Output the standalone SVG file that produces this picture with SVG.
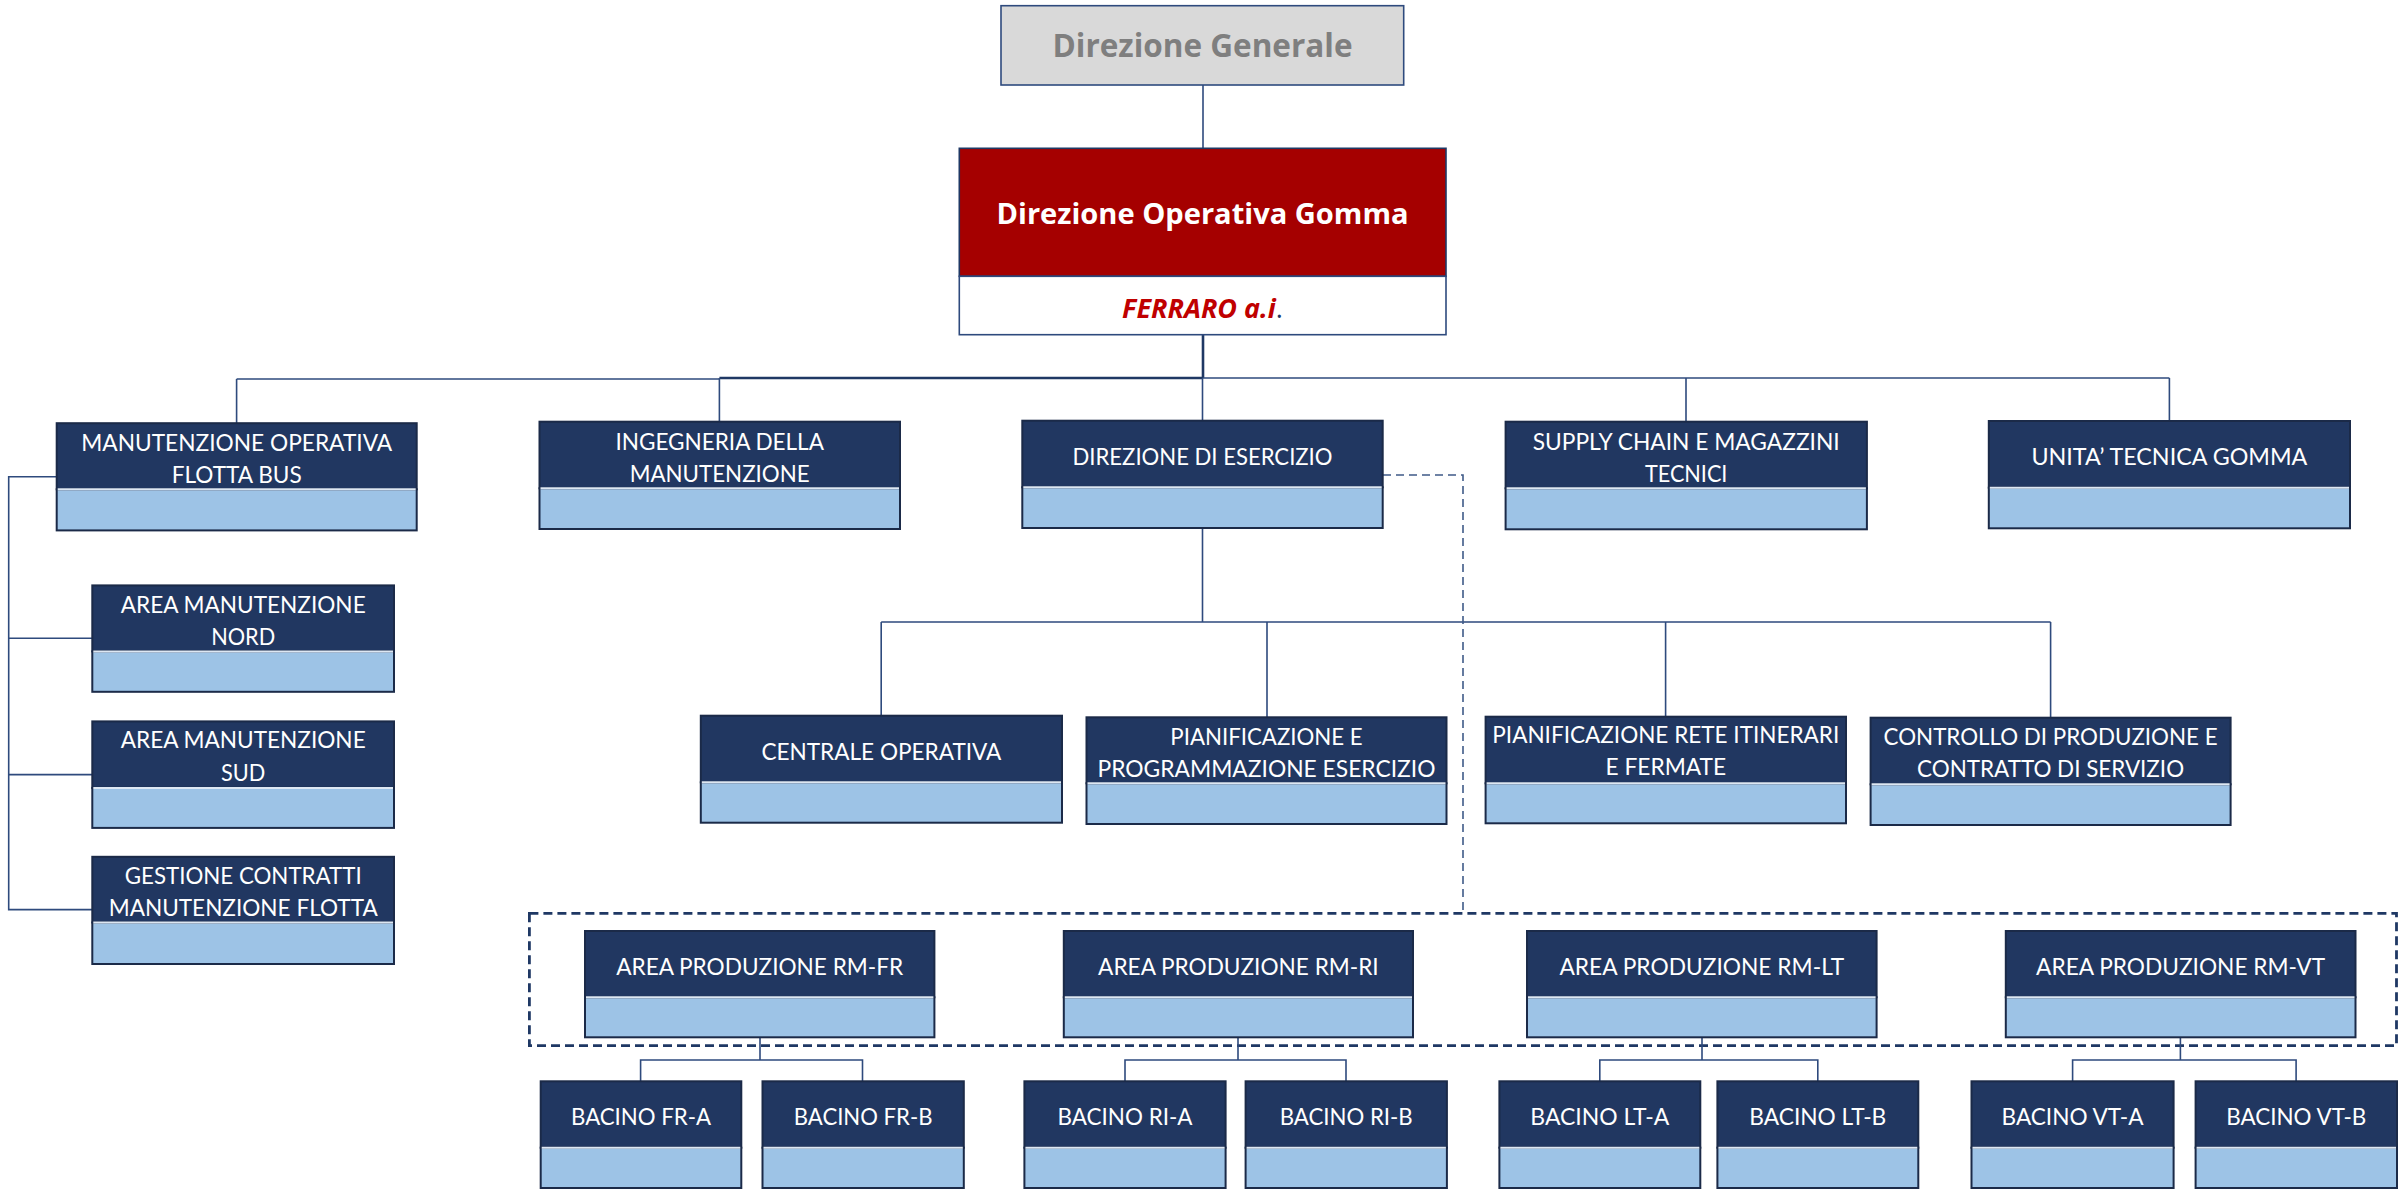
<svg xmlns="http://www.w3.org/2000/svg" width="2400" height="1189" viewBox="0 0 2400 1189">
  <style>
    .dk { fill: #213761; stroke: #1b2a48; stroke-width: 2; }
    .lt { fill: #9dc3e6; stroke: #1b2a48; stroke-width: 2; }
    .dv { stroke: #dde7f3; stroke-width: 2; }
    .nt { font-family: Lato, "Open Sans", "Liberation Sans", sans-serif; font-size: 23.5px; fill: #ffffff; text-anchor: middle; }
    .cn { fill: none; stroke: #2e4a7d; stroke-width: 1.6; }
    .cnb { fill: none; stroke: #1f3864; stroke-width: 2.6; }
    .dash1 { fill: none; stroke: #3f5a88; stroke-width: 1.6; stroke-dasharray: 8 5; }
    .dash2 { fill: none; stroke: #1f3864; stroke-width: 2.8; stroke-dasharray: 9 5; }
  </style>

  <!-- connectors -->
  <g id="connectors">
    <path class="cn" d="M1203 85 V148"/>
    <path class="cnb" d="M1203 335 V378"/>
    <path class="cn" d="M236.6 379 H719.4"/>
    <path class="cnb" d="M719.4 378 H1203"/>
    <path class="cn" d="M1203 378 H2169.4"/>
    <path class="cn" d="M236.6 379 V423 M719.4 378 V421.5 M1202.5 378 V421 M1686 378 V421.5 M2169.4 378 V421"/>
    <!-- maintenance bracket -->
    <path class="cn" d="M56.7 476.8 H8.7 V909.6 H92.3 M8.7 638.2 H92.3 M8.7 774.6 H92.3"/>
    <!-- direzione di esercizio branches -->
    <path class="cn" d="M1202.5 528 V622 M881.2 622 H2050.6 M881.2 622 V715.7 M1267 622 V717.3 M1665.6 622 V716.7 M2050.6 622 V717.7"/>
    <!-- functional link to production areas -->
    <path class="dash1" d="M1383 475 H1463 V913"/>
    <rect class="dash2" x="529.4" y="913.3" width="1867.1" height="132.4"/>
    <!-- areas to bacini -->
    <path class="cn" d="M760 1037.3 V1060 M640.6 1081.3 V1060 H862.5 V1081.3"/>
    <path class="cn" d="M1238 1037.3 V1060 M1125 1081.3 V1060 H1346 V1081.3"/>
    <path class="cn" d="M1702 1037.3 V1060 M1599.8 1081.3 V1060 H1817.8 V1081.3"/>
    <path class="cn" d="M2180.4 1037.3 V1060 M2072.6 1081.3 V1060 H2296.1 V1081.3"/>
  </g>

  <!-- top management -->
  <g id="direzione-generale">
    <rect x="1001" y="5.7" width="402.7" height="79.3" fill="#d9d9d9" stroke="#2e4a7d" stroke-width="1.6"/>
    <text x="1202.5" y="57" font-family="'Open Sans', 'Liberation Sans', sans-serif" font-size="32" font-weight="bold" fill="#7f7f7f" text-anchor="middle" textLength="300" lengthAdjust="spacingAndGlyphs">Direzione Generale</text>
  </g>
  <g id="direzione-operativa-gomma">
    <rect x="959.3" y="148.3" width="486.7" height="128" fill="#a50000" stroke="#1f3864" stroke-width="1.6"/>
    <rect x="959.3" y="276.3" width="486.7" height="58.4" fill="#ffffff" stroke="#2e4a7d" stroke-width="1.6"/>
    <text x="1202.5" y="224" font-family="'Open Sans', 'Liberation Sans', sans-serif" font-size="29" font-weight="bold" fill="#ffffff" text-anchor="middle" textLength="412" lengthAdjust="spacingAndGlyphs">Direzione Operativa Gomma</text>
    <text x="1202.5" y="318" font-family="'Open Sans', 'Liberation Sans', sans-serif" font-size="27" text-anchor="middle"><tspan font-weight="bold" font-style="italic" fill="#c00000">FERRARO a.i</tspan><tspan fill="#1f3864">.</tspan></text>
  </g>

  <!-- first level -->
  <g id="manutenzione-operativa">
    <rect class="dk" x="56.7" y="423.2" width="360" height="66.1"/>
    <rect class="lt" x="56.7" y="489.3" width="360" height="41.1"/>
    <line class="dv" x1="57.7" y1="489.3" x2="415.7" y2="489.3"/>
    <text class="nt" x="236.7" y="451" textLength="311" lengthAdjust="spacingAndGlyphs">MANUTENZIONE OPERATIVA</text>
    <text class="nt" x="236.7" y="482.9" textLength="130" lengthAdjust="spacingAndGlyphs">FLOTTA BUS</text>
  </g>
  <g id="ingegneria-manutenzione">
    <rect class="dk" x="539.5" y="421.7" width="360.5" height="66.6"/>
    <rect class="lt" x="539.5" y="488.3" width="360.5" height="40.7"/>
    <line class="dv" x1="540.5" y1="488.3" x2="899" y2="488.3"/>
    <text class="nt" x="719.7" y="449.5" textLength="208.5" lengthAdjust="spacingAndGlyphs">INGEGNERIA DELLA</text>
    <text class="nt" x="719.7" y="481.7" textLength="180" lengthAdjust="spacingAndGlyphs">MANUTENZIONE</text>
  </g>
  <g id="direzione-esercizio">
    <rect class="dk" x="1022.3" y="420.7" width="360.4" height="66.6"/>
    <rect class="lt" x="1022.3" y="487.3" width="360.4" height="40.7"/>
    <line class="dv" x1="1023.3" y1="487.3" x2="1381.7" y2="487.3"/>
    <text class="nt" x="1202.5" y="465" font-size="24.5" textLength="260" lengthAdjust="spacingAndGlyphs">DIREZIONE DI ESERCIZIO</text>
  </g>
  <g id="supply-chain">
    <rect class="dk" x="1505.6" y="421.7" width="361.3" height="66.6"/>
    <rect class="lt" x="1505.6" y="488.3" width="361.3" height="41"/>
    <line class="dv" x1="1506.6" y1="488.3" x2="1865.9" y2="488.3"/>
    <text class="nt" x="1686.2" y="450" textLength="307" lengthAdjust="spacingAndGlyphs">SUPPLY CHAIN E MAGAZZINI</text>
    <text class="nt" x="1686.2" y="481.7" textLength="82.5" lengthAdjust="spacingAndGlyphs">TECNICI</text>
  </g>
  <g id="unita-tecnica-gomma">
    <rect class="dk" x="1988.8" y="421" width="361.2" height="66.7"/>
    <rect class="lt" x="1988.8" y="487.7" width="361.2" height="40.6"/>
    <line class="dv" x1="1989.8" y1="487.7" x2="2349" y2="487.7"/>
    <text class="nt" x="2169.4" y="465" textLength="276" lengthAdjust="spacingAndGlyphs">UNITA’ TECNICA GOMMA</text>
  </g>

  <!-- maintenance areas -->
  <g id="area-manutenzione-nord">
    <rect class="dk" x="92.3" y="585.4" width="301.7" height="66"/>
    <rect class="lt" x="92.3" y="651.4" width="301.7" height="40.4"/>
    <line class="dv" x1="93.3" y1="651.4" x2="393" y2="651.4"/>
    <text class="nt" x="243.2" y="613.2" textLength="245" lengthAdjust="spacingAndGlyphs">AREA MANUTENZIONE</text>
    <text class="nt" x="243.2" y="645" textLength="64" lengthAdjust="spacingAndGlyphs">NORD</text>
  </g>
  <g id="area-manutenzione-sud">
    <rect class="dk" x="92.3" y="721.4" width="301.7" height="66.5"/>
    <rect class="lt" x="92.3" y="787.9" width="301.7" height="40"/>
    <line class="dv" x1="93.3" y1="787.9" x2="393" y2="787.9"/>
    <text class="nt" x="243.2" y="748.2" textLength="245" lengthAdjust="spacingAndGlyphs">AREA MANUTENZIONE</text>
    <text class="nt" x="243.2" y="780.7" textLength="44.3" lengthAdjust="spacingAndGlyphs">SUD</text>
  </g>
  <g id="gestione-contratti">
    <rect class="dk" x="92.3" y="856.8" width="301.7" height="65.7"/>
    <rect class="lt" x="92.3" y="922.5" width="301.7" height="41.5"/>
    <line class="dv" x1="93.3" y1="922.5" x2="393" y2="922.5"/>
    <text class="nt" x="243.2" y="884" textLength="237" lengthAdjust="spacingAndGlyphs">GESTIONE CONTRATTI</text>
    <text class="nt" x="243.2" y="916" textLength="269" lengthAdjust="spacingAndGlyphs">MANUTENZIONE FLOTTA</text>
  </g>

  <!-- second level -->
  <g id="centrale-operativa">
    <rect class="dk" x="700.8" y="715.7" width="361.2" height="66.6"/>
    <rect class="lt" x="700.8" y="782.3" width="361.2" height="40.4"/>
    <line class="dv" x1="701.8" y1="782.3" x2="1061" y2="782.3"/>
    <text class="nt" x="881.4" y="760" textLength="240" lengthAdjust="spacingAndGlyphs">CENTRALE OPERATIVA</text>
  </g>
  <g id="pianificazione-programmazione">
    <rect class="dk" x="1086.5" y="717.3" width="360" height="66"/>
    <rect class="lt" x="1086.5" y="783.3" width="360" height="40.7"/>
    <line class="dv" x1="1087.5" y1="783.3" x2="1445.5" y2="783.3"/>
    <text class="nt" x="1266.5" y="745" textLength="192.4" lengthAdjust="spacingAndGlyphs">PIANIFICAZIONE E</text>
    <text class="nt" x="1266.5" y="776.7" textLength="338" lengthAdjust="spacingAndGlyphs">PROGRAMMAZIONE ESERCIZIO</text>
  </g>
  <g id="pianificazione-rete">
    <rect class="dk" x="1485.6" y="716.7" width="360.4" height="66.6"/>
    <rect class="lt" x="1485.6" y="783.3" width="360.4" height="40"/>
    <line class="dv" x1="1486.6" y1="783.3" x2="1845" y2="783.3"/>
    <text class="nt" x="1665.8" y="743.3" textLength="347" lengthAdjust="spacingAndGlyphs">PIANIFICAZIONE RETE ITINERARI</text>
    <text class="nt" x="1665.8" y="775" textLength="120.6" lengthAdjust="spacingAndGlyphs">E FERMATE</text>
  </g>
  <g id="controllo-produzione">
    <rect class="dk" x="1870.6" y="717.7" width="360" height="66.6"/>
    <rect class="lt" x="1870.6" y="784.3" width="360" height="40.7"/>
    <line class="dv" x1="1871.6" y1="784.3" x2="2229.6" y2="784.3"/>
    <text class="nt" x="2050.6" y="745" textLength="334" lengthAdjust="spacingAndGlyphs">CONTROLLO DI PRODUZIONE E</text>
    <text class="nt" x="2050.6" y="776.7" textLength="267" lengthAdjust="spacingAndGlyphs">CONTRATTO DI SERVIZIO</text>
  </g>

  <!-- production areas -->
  <g id="area-produzione-fr">
    <rect class="dk" x="585" y="931" width="349.4" height="66.3"/>
    <rect class="lt" x="585" y="997.3" width="349.4" height="40"/>
    <line class="dv" x1="586" y1="997.3" x2="933.4" y2="997.3"/>
    <text class="nt" x="759.7" y="975" textLength="287" lengthAdjust="spacingAndGlyphs">AREA PRODUZIONE RM-FR</text>
  </g>
  <g id="area-produzione-ri">
    <rect class="dk" x="1063.8" y="931" width="349.2" height="66.3"/>
    <rect class="lt" x="1063.8" y="997.3" width="349.2" height="40"/>
    <line class="dv" x1="1064.8" y1="997.3" x2="1412" y2="997.3"/>
    <text class="nt" x="1238.4" y="975" textLength="280.6" lengthAdjust="spacingAndGlyphs">AREA PRODUZIONE RM-RI</text>
  </g>
  <g id="area-produzione-lt">
    <rect class="dk" x="1527" y="931" width="349.6" height="66.3"/>
    <rect class="lt" x="1527" y="997.3" width="349.6" height="40"/>
    <line class="dv" x1="1528" y1="997.3" x2="1875.6" y2="997.3"/>
    <text class="nt" x="1701.8" y="975" textLength="284.7" lengthAdjust="spacingAndGlyphs">AREA PRODUZIONE RM-LT</text>
  </g>
  <g id="area-produzione-vt">
    <rect class="dk" x="2005.8" y="931" width="349.7" height="66.3"/>
    <rect class="lt" x="2005.8" y="997.3" width="349.7" height="40"/>
    <line class="dv" x1="2006.8" y1="997.3" x2="2354.5" y2="997.3"/>
    <text class="nt" x="2180.6" y="975" textLength="289" lengthAdjust="spacingAndGlyphs">AREA PRODUZIONE RM-VT</text>
  </g>

  <!-- bacini -->
  <g id="bacino-fr-a">
    <rect class="dk" x="540.7" y="1081.3" width="200.6" height="66.4"/>
    <rect class="lt" x="540.7" y="1147.7" width="200.6" height="40.3"/>
    <line class="dv" x1="541.7" y1="1147.7" x2="740.3" y2="1147.7"/>
    <text class="nt" x="641" y="1125" textLength="140" lengthAdjust="spacingAndGlyphs">BACINO FR-A</text>
  </g>
  <g id="bacino-fr-b">
    <rect class="dk" x="762.5" y="1081.3" width="201.3" height="66.4"/>
    <rect class="lt" x="762.5" y="1147.7" width="201.3" height="40.3"/>
    <line class="dv" x1="763.5" y1="1147.7" x2="962.8" y2="1147.7"/>
    <text class="nt" x="863.1" y="1125" textLength="138.7" lengthAdjust="spacingAndGlyphs">BACINO FR-B</text>
  </g>
  <g id="bacino-ri-a">
    <rect class="dk" x="1024.4" y="1081.3" width="201.2" height="66.4"/>
    <rect class="lt" x="1024.4" y="1147.7" width="201.2" height="40.3"/>
    <line class="dv" x1="1025.4" y1="1147.7" x2="1224.6" y2="1147.7"/>
    <text class="nt" x="1125" y="1125" textLength="135" lengthAdjust="spacingAndGlyphs">BACINO RI-A</text>
  </g>
  <g id="bacino-ri-b">
    <rect class="dk" x="1245.6" y="1081.3" width="201.3" height="66.4"/>
    <rect class="lt" x="1245.6" y="1147.7" width="201.3" height="40.3"/>
    <line class="dv" x1="1246.6" y1="1147.7" x2="1445.9" y2="1147.7"/>
    <text class="nt" x="1346.2" y="1125" textLength="133" lengthAdjust="spacingAndGlyphs">BACINO RI-B</text>
  </g>
  <g id="bacino-lt-a">
    <rect class="dk" x="1499.4" y="1081.3" width="200.9" height="66.4"/>
    <rect class="lt" x="1499.4" y="1147.7" width="200.9" height="40.3"/>
    <line class="dv" x1="1500.4" y1="1147.7" x2="1699.3" y2="1147.7"/>
    <text class="nt" x="1599.8" y="1125" textLength="139" lengthAdjust="spacingAndGlyphs">BACINO LT-A</text>
  </g>
  <g id="bacino-lt-b">
    <rect class="dk" x="1717.4" y="1081.3" width="200.9" height="66.4"/>
    <rect class="lt" x="1717.4" y="1147.7" width="200.9" height="40.3"/>
    <line class="dv" x1="1718.4" y1="1147.7" x2="1917.3" y2="1147.7"/>
    <text class="nt" x="1817.8" y="1125" textLength="137" lengthAdjust="spacingAndGlyphs">BACINO LT-B</text>
  </g>
  <g id="bacino-vt-a">
    <rect class="dk" x="1971.5" y="1081.3" width="202.1" height="66.4"/>
    <rect class="lt" x="1971.5" y="1147.7" width="202.1" height="40.3"/>
    <line class="dv" x1="1972.5" y1="1147.7" x2="2172.6" y2="1147.7"/>
    <text class="nt" x="2072.5" y="1125" textLength="142" lengthAdjust="spacingAndGlyphs">BACINO VT-A</text>
  </g>
  <g id="bacino-vt-b">
    <rect class="dk" x="2195.6" y="1081.3" width="201.4" height="66.4"/>
    <rect class="lt" x="2195.6" y="1147.7" width="201.4" height="40.3"/>
    <line class="dv" x1="2196.6" y1="1147.7" x2="2396" y2="1147.7"/>
    <text class="nt" x="2296.3" y="1125" textLength="140" lengthAdjust="spacingAndGlyphs">BACINO VT-B</text>
  </g>
</svg>
